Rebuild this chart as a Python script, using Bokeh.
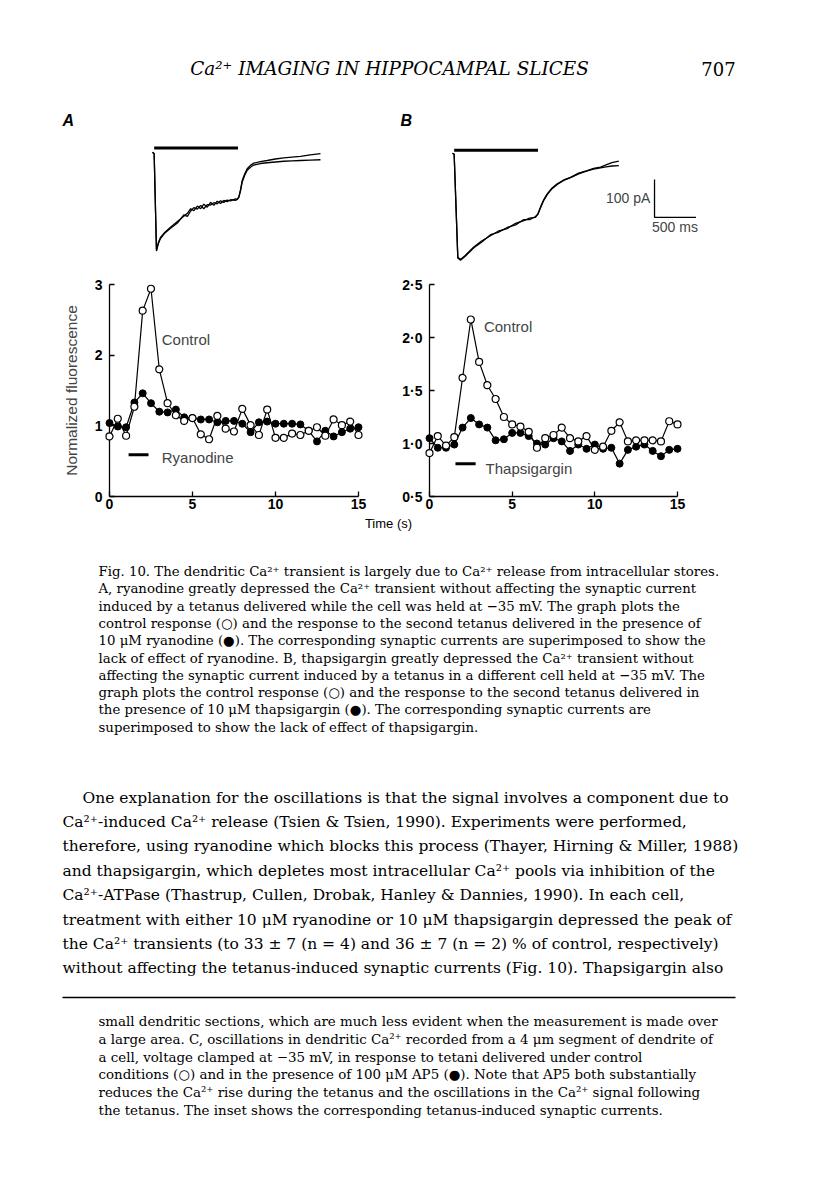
from bokeh.plotting import figure
from bokeh.models import Range1d, FixedTicker, Label
from bokeh.layouts import column, row
from bokeh.embed import file_html
from bokeh.resources import INLINE

# ---------------- data ----------------
time_s = [0.0, 0.5, 1.0, 1.5, 2.0, 2.5, 3.0, 3.5, 4.0, 4.5, 5.0, 5.5, 6.0, 6.5, 7.0, 7.5,
          8.0, 8.5, 9.0, 9.5, 10.0, 10.5, 11.0, 11.5, 12.0, 12.5, 13.0, 13.5, 14.0, 14.5, 15.0]

a_control = [0.85, 1.10, 0.86, 1.27, 2.63, 2.94, 1.80, 1.32, 1.15, 1.07, 1.11, 0.88, 0.81, 1.14,
             0.96, 0.92, 1.24, 1.01, 0.87, 1.23, 0.83, 0.83, 0.89, 0.87, 0.93, 0.98, 0.86, 1.09,
             1.01, 1.06, 0.87]
a_ryanodine = [1.04, 0.99, 0.98, 1.33, 1.46, 1.32, 1.20, 1.19, 1.23, 1.12, 1.11, 1.09, 1.09, 1.05,
               1.07, 1.07, 1.03, 0.91, 1.05, 1.06, 1.03, 1.03, 1.03, 1.02, 0.93, 0.78, 0.93, 0.85,
               0.91, 0.96, 0.98]
b_control = [0.91, 1.07, 0.98, 1.06, 1.62, 2.17, 1.77, 1.55, 1.42, 1.25, 1.18, 1.16, 1.11, 0.96,
             1.05, 1.08, 1.15, 1.05, 1.02, 1.07, 0.94, 0.97, 1.12, 1.20, 1.02, 1.03, 1.03, 1.03,
             1.02, 1.21, 1.18]
b_thapsigargin = [1.05, 0.96, 0.96, 0.99, 1.15, 1.24, 1.18, 1.15, 1.03, 1.04, 1.10, 1.10, 1.07, 1.00,
                  0.99, 1.05, 1.02, 0.93, 0.99, 0.95, 0.99, 0.95, 0.96, 0.81, 0.94, 0.97, 0.99, 0.93,
                  0.88, 0.94, 0.95]

a_x_ticks = [0, 5, 10, 15]
a_y_ticks = [0, 1, 2, 3]
b_x_ticks = [0, 5, 10, 15]
b_y_ticks = [0.5, 1.0, 1.5, 2.0, 2.5]
b_y_tick_labels = ["0·5", "1·0", "1·5", "2·0", "2·5"]

# synaptic currents (ms, pA)
a_cur_ctrl_t = [0, 20, 48, 70, 96, 150, 217, 300, 377, 420, 460, 498, 540, 580, 618, 660, 700,
                739, 780, 820, 859, 900, 940, 1000, 1021, 1040, 1060, 1081, 1110, 1141, 1180,
                1221, 1300, 1382, 1480, 1582, 1680, 1783, 1900, 2024]
a_cur_ctrl_i = [0, -4, -259, -240, -226, -212, -199, -184, -170, -162, -150, -155, -143, -150,
                -138, -146, -133, -141, -130, -136, -128, -131, -126, -128, -124, -119, -100,
                -75, -58, -44, -35, -29, -25, -22, -18, -15, -13, -11, -7, -4]
a_cur_drug_t = [0, 20, 48, 70, 96, 150, 217, 300, 377, 420, 460, 498, 540, 580, 618, 660, 700,
                739, 780, 820, 859, 900, 940, 1000, 1021, 1040, 1060, 1081, 1110, 1141, 1180,
                1221, 1300, 1382, 1480, 1582, 1680, 1783, 1900, 2024]
a_cur_drug_i = [0, -4, -262, -243, -229, -214, -202, -188, -166, -170, -156, -147, -151, -141,
                -150, -139, -140, -134, -137, -129, -133, -127, -129, -124, -126, -120, -103,
                -79, -62, -48, -40, -34, -30, -28, -26, -24, -23, -22, -21, -20]
b_cur_ctrl_t = [0, 20, 64, 96, 150, 257, 350, 458, 550, 659, 760, 859, 930, 1000, 1030, 1060,
                1100, 1141, 1200, 1262, 1340, 1422, 1520, 1623, 1700, 1783, 1850, 1920, 2004]
b_cur_ctrl_i = [0, -3, -276, -282, -272, -249, -233, -219, -207, -200, -186, -179, -172, -170,
                -160, -143, -123, -108, -92, -81, -71, -64, -53, -46, -40, -37, -31, -25, -21]
b_cur_drug_t = [0, 20, 64, 96, 150, 257, 350, 458, 550, 659, 760, 859, 930, 1000, 1030, 1060,
                1100, 1141, 1200, 1262, 1340, 1422, 1520, 1623, 1700, 1783, 1850, 1920, 2004]
b_cur_drug_i = [0, -3, -278, -284, -274, -251, -236, -216, -210, -197, -190, -176, -176, -168,
                -162, -145, -125, -110, -94, -83, -72, -65, -55, -47, -42, -39, -36, -34, -33]
tetanus_ms = [20, 1030]
scale_ms = 500
scale_pA = 100

header_title = "Ca²⁺ IMAGING IN HIPPOCAMPAL SLICES"
page_number = "707"
x_title = "Time (s)"
caption_lines = [
    "Fig. 10. The dendritic Ca²⁺ transient is largely due to Ca²⁺ release from intracellular stores.",
    "A, ryanodine greatly depressed the Ca²⁺ transient without affecting the synaptic current",
    "induced by a tetanus delivered while the cell was held at −35 mV. The graph plots the",
    "control response (○) and the response to the second tetanus delivered in the presence of",
    "10 μM ryanodine (●). The corresponding synaptic currents are superimposed to show the",
    "lack of effect of ryanodine. B, thapsigargin greatly depressed the Ca²⁺ transient without",
    "affecting the synaptic current induced by a tetanus in a different cell held at −35 mV. The",
    "graph plots the control response (○) and the response to the second tetanus delivered in",
    "the presence of 10 μM thapsigargin (●). The corresponding synaptic currents are",
    "superimposed to show the lack of effect of thapsigargin.",
]
body_lines = [
    "One explanation for the oscillations is that the signal involves a component due to",
    "Ca²⁺-induced Ca²⁺ release (Tsien & Tsien, 1990). Experiments were performed,",
    "therefore, using ryanodine which blocks this process (Thayer, Hirning & Miller, 1988)",
    "and thapsigargin, which depletes most intracellular Ca²⁺ pools via inhibition of the",
    "Ca²⁺-ATPase (Thastrup, Cullen, Drobak, Hanley & Dannies, 1990). In each cell,",
    "treatment with either 10 μM ryanodine or 10 μM thapsigargin depressed the peak of",
    "the Ca²⁺ transients (to 33 ± 7 (n = 4) and 36 ± 7 (n = 2) % of control, respectively)",
    "without affecting the tetanus-induced synaptic currents (Fig. 10). Thapsigargin also",
]
foot_lines = [
    "small dendritic sections, which are much less evident when the measurement is made over",
    "a large area. C, oscillations in dendritic Ca²⁺ recorded from a 4 μm segment of dendrite of",
    "a cell, voltage clamped at −35 mV, in response to tetani delivered under control",
    "conditions (○) and in the presence of 100 μM AP5 (●). Note that AP5 both substantially",
    "reduces the Ca²⁺ rise during the tetanus and the oscillations in the Ca²⁺ signal following",
    "the tetanus. The inset shows the corresponding tetanus-induced synaptic currents.",
]

SANS = "Liberation Sans"
SERIF = "DejaVu Serif"
PAGE_W = 816


def bare(p):
    p.xaxis.visible = False
    p.yaxis.visible = False
    p.xgrid.visible = False
    p.ygrid.visible = False
    p.outline_line_color = None
    p.background_fill_color = "white"
    p.border_fill_color = "white"
    p.min_border = 0
    return p


def page_fig(h, y0, y1):
    p = figure(width=PAGE_W, height=h, x_range=Range1d(0, PAGE_W), y_range=Range1d(y1, y0),
               output_backend="svg", toolbar_location=None)
    return bare(p)


def put(p, x, y, txt, size, font=SERIF, style="normal", align="left"):
    p.add_layout(Label(x=x, y=y, text=txt, text_font=font, text_font_size=f"{size}px",
                       text_font_style=style, text_align=align, text_baseline="middle",
                       text_color="black"))


# ---------------- header ----------------
head = page_fig(130, 0, 130)
put(head, 389, 68, header_title, 18.4, SERIF, "italic", "center")
put(head, 718, 68, page_number, 18, SERIF, "normal", "center")
put(head, 62, 120, "A", 16, SANS, "bold italic")
put(head, 400, 120, "B", 16, SANS, "bold italic")


# ---------------- current traces ----------------
def trace_fig(w, t0_px, base_px, left_px):
    msp = 500 / 41.5
    pap = 100 / 37.7
    p = figure(width=w, height=140,
               x_range=Range1d(-(t0_px - left_px) * msp, (left_px + w - t0_px) * msp),
               y_range=Range1d(-(270 - base_px) * pap, (base_px - 130) * pap),
               output_backend="svg", toolbar_location=None)
    return bare(p)


trA = trace_fig(400, 152, 151.7, 0)
trA.line(a_cur_ctrl_t, a_cur_ctrl_i, line_color="black", line_width=1.3)
trA.line(a_cur_drug_t, a_cur_drug_i, line_color="black", line_width=1.3)
trA.line(tetanus_ms, [11, 11], line_color="black", line_width=3)

trB = trace_fig(PAGE_W - 400, 452, 152.7, 400)
trB.line(b_cur_ctrl_t, b_cur_ctrl_i, line_color="black", line_width=1.3)
trB.line(b_cur_drug_t, b_cur_drug_i, line_color="black", line_width=1.3)
trB.line(tetanus_ms, [8, 8], line_color="black", line_width=3)
sx, sy = 2434, -70
trB.line([sx, sx, sx + scale_ms], [sy, sy - scale_pA, sy - scale_pA],
         line_color="black", line_width=1.3)
trB.add_layout(Label(x=sx - 50, y=sy - 50, text=f"{scale_pA} pA", text_font=SANS,
                     text_font_size="14px", text_align="right", text_baseline="middle"))
trB.add_layout(Label(x=sx - 30, y=sy - scale_pA - 25, text=f"{scale_ms} ms", text_font=SANS,
                     text_font_size="14px", text_align="left", text_baseline="middle"))


# ---------------- fluorescence charts ----------------
def chart(w, ymin, ymax, bl, br, bt, bb, xt, yt):
    p = figure(width=w, height=245, x_range=Range1d(0, 15), y_range=Range1d(ymin, ymax),
               output_backend="svg", toolbar_location=None,
               min_border_left=bl, min_border_right=br, min_border_top=bt, min_border_bottom=bb)
    p.xgrid.visible = False
    p.ygrid.visible = False
    p.outline_line_color = None
    for ax in (p.xaxis[0], p.yaxis[0]):
        ax.axis_line_width = 1.3
        ax.major_tick_line_width = 1.3
        ax.major_tick_in = 5
        ax.major_tick_out = 0
        ax.minor_tick_in = 0
        ax.minor_tick_out = 0
        ax.major_label_text_font = SANS
        ax.major_label_text_font_style = "bold"
        ax.major_label_text_font_size = "14px"
        ax.major_label_text_color = "black"
    p.xaxis.ticker = FixedTicker(ticks=xt)
    p.yaxis.ticker = FixedTicker(ticks=yt)
    p.xaxis.major_label_standoff = 2
    p.yaxis.major_label_standoff = 7
    return p


def series(p, yc, yd):
    p.line(time_s, yc, line_color="black", line_width=1.2, level="overlay")
    p.line(time_s, yd, line_color="black", line_width=1.2, level="overlay")
    p.scatter(time_s, yd, size=7, marker="circle", fill_color="black", line_color="black",
              level="overlay")
    p.scatter(time_s, yc, size=7, marker="circle", fill_color="white", line_color="black",
              line_width=1.2, level="overlay")


chA = chart(370, 0, 3, 109, 12, 14, 18, a_x_ticks, a_y_ticks)
chA.yaxis.axis_label = "Normalized fluorescence"
chA.yaxis.axis_label_text_font = SANS
chA.yaxis.axis_label_text_font_style = "normal"
chA.yaxis.axis_label_text_font_size = "15.5px"
chA.yaxis.axis_label_standoff = 12
series(chA, a_control, a_ryanodine)
chA.line([1.15, 2.35], [0.59, 0.59], line_color="black", line_width=3)
chA.add_layout(Label(x=3.15, y=0.55, text="Ryanodine", text_font=SANS, text_font_size="15px",
                     text_baseline="middle"))
chA.add_layout(Label(x=3.15, y=2.22, text="Control", text_font=SANS, text_font_size="15px",
                     text_baseline="middle"))

chB = chart(PAGE_W - 370, 0.5, 2.5, 59, PAGE_W - 677, 14, 19, b_x_ticks, b_y_ticks)
chB.yaxis.major_label_overrides = dict(zip(b_y_ticks, b_y_tick_labels))
series(chB, b_control, b_thapsigargin)
chB.line([1.57, 2.79], [0.81, 0.81], line_color="black", line_width=3)
chB.add_layout(Label(x=3.39, y=0.76, text="Thapsigargin", text_font=SANS, text_font_size="15px",
                     text_baseline="middle"))
chB.add_layout(Label(x=3.29, y=2.10, text="Control", text_font=SANS, text_font_size="15px",
                     text_baseline="middle"))

# ---------------- text block ----------------
txt = page_fig(635, 515, 1150)
put(txt, 388, 523, x_title, 13, SANS, "normal", "center")
for i, s in enumerate(caption_lines):
    put(txt, 98, 571 + 17.3 * i, s, 13.3, SERIF)
for i, s in enumerate(body_lines):
    put(txt, 82 if i == 0 else 62, 797 + 24.4 * i, s, 15.5, SERIF)
txt.line([62, 735], [997, 997], line_color="black", line_width=1.5)
for i, s in enumerate(foot_lines):
    put(txt, 98, 1021 + 17.8 * i, s, 13.4, SERIF)

layout = column(head, row(trA, trB), row(chA, chB), txt)
open("out.html", "w").write(file_html(layout, INLINE))
